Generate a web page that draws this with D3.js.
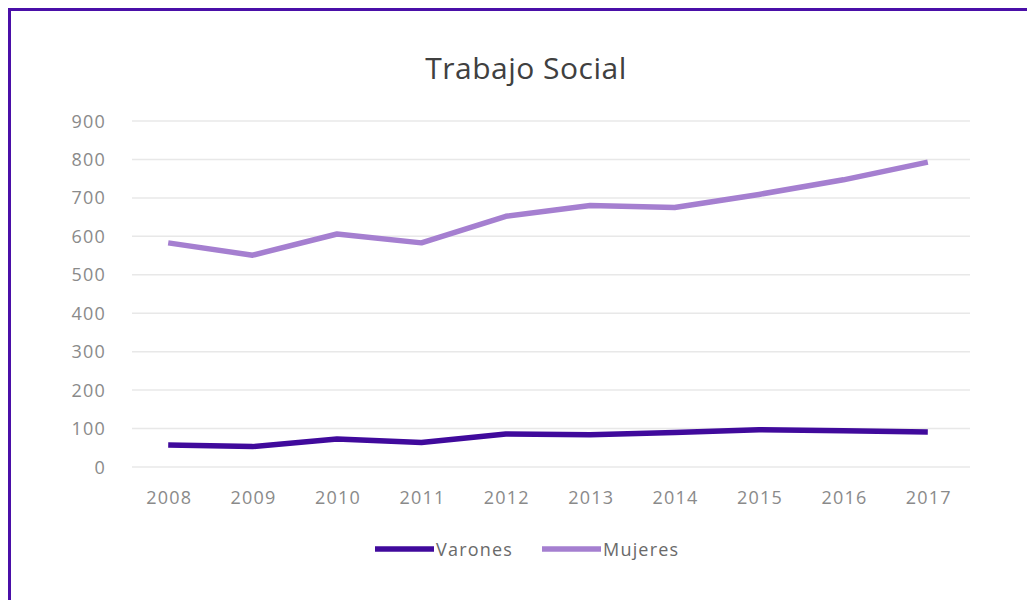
<!DOCTYPE html>
<html>
<head>
<meta charset="utf-8">
<script src="https://cdn.jsdelivr.net/npm/d3@7"></script>
<style>
  body { margin: 0; background: #fff; }
  svg { display: block; }
</style>
</head>
<body>
<svg id="chart" width="1027" height="600"></svg>
<script>
// data
var years = ["2008", "2009", "2010", "2011", "2012", "2013", "2014", "2015", "2016", "2017"];
var varones = [57, 53, 73, 64, 86, 84, 90, 97, 94, 91];
var mujeres = [583, 551, 606, 583, 652, 680, 675, 709, 747, 793];
var yTicks = [0, 100, 200, 300, 400, 500, 600, 700, 800, 900];
var seriesNames = ["Varones", "Mujeres"];
var seriesColors = ["#400a9c", "#a57fd0"];

var svg = d3.select("#chart");
var font = "'Open Sans', 'Liberation Sans', sans-serif";

// frame
svg.append("rect")
  .attr("x", 9.5).attr("y", 9.5)
  .attr("width", 1040).attr("height", 620)
  .attr("fill", "none")
  .attr("stroke", "#4a0fa8")
  .attr("stroke-width", 3);

var plot = {left: 126, right: 970, top: 121, bottom: 467};

var x = d3.scaleBand().domain(years).range([plot.left, plot.right]);
var y = d3.scaleLinear().domain([0, 900]).range([plot.bottom, plot.top]);

// title
svg.append("text")
  .attr("x", 526).attr("y", 79)
  .attr("text-anchor", "middle")
  .attr("font-family", font)
  .attr("font-size", 30)
  .attr("letter-spacing", 0.5)
  .attr("fill", "#404040")
  .text("Trabajo Social");

// gridlines
svg.append("g").selectAll("line")
  .data(yTicks)
  .join("line")
  .attr("x1", plot.left + 6).attr("x2", plot.right)
  .attr("y1", function (d) { return y(d); })
  .attr("y2", function (d) { return y(d); })
  .attr("stroke", "#e8e8e8")
  .attr("stroke-width", 1.5);

// y tick labels
svg.append("g").selectAll("text")
  .data(yTicks)
  .join("text")
  .attr("x", 106)
  .attr("y", function (d) { return y(d) + 6.5; })
  .attr("text-anchor", "end")
  .attr("font-family", font)
  .attr("font-size", 18)
  .attr("letter-spacing", 1.2)
  .attr("fill", "#8a8a8a")
  .text(function (d) { return d; });

// x tick labels
svg.append("g").selectAll("text")
  .data(years)
  .join("text")
  .attr("x", function (d) { return x(d) + x.bandwidth() / 2 + 1; })
  .attr("y", 504)
  .attr("text-anchor", "middle")
  .attr("font-family", font)
  .attr("font-size", 18)
  .attr("letter-spacing", 1.2)
  .attr("fill", "#8a8a8a")
  .text(function (d) { return d; });

var line = d3.line()
  .x(function (d, i) { return x(years[i]) + x.bandwidth() / 2; })
  .y(function (d) { return y(d); });

[varones, mujeres].forEach(function (vals, i) {
  svg.append("path")
    .datum(vals)
    .attr("d", line)
    .attr("fill", "none")
    .attr("stroke", seriesColors[i])
    .attr("stroke-width", 5.5)
    .attr("stroke-linejoin", "round");
});

// legend
var legendX = [375, 542];
seriesNames.forEach(function (name, i) {
  var g = svg.append("g").attr("transform", "translate(" + legendX[i] + ",549)");
  g.append("line")
    .attr("x1", 0).attr("x2", 59)
    .attr("stroke", seriesColors[i])
    .attr("stroke-width", 5.5);
  g.append("text")
    .attr("x", 61).attr("y", 6.5)
    .attr("font-family", font)
    .attr("font-size", 18)
    .attr("letter-spacing", 1.2)
    .attr("fill", "#6a6a6a")
    .text(name);
});
</script>
</body>
</html>
